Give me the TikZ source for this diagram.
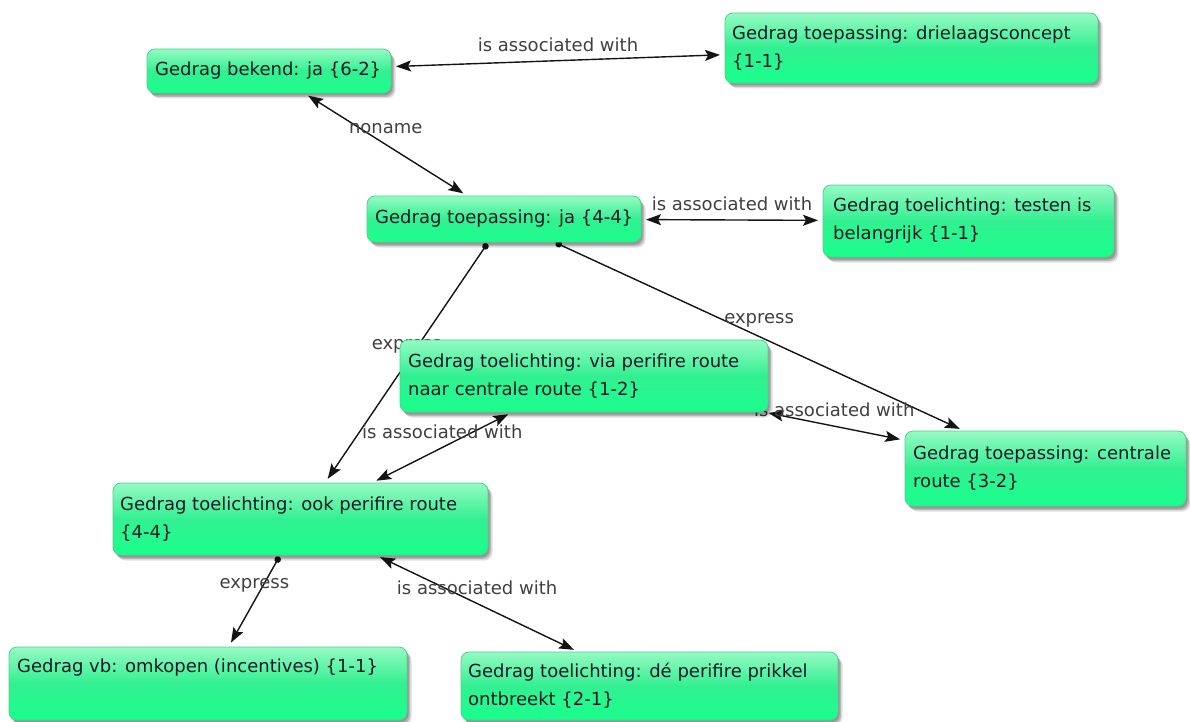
\documentclass[tikz,border=0pt]{standalone}
\usepackage{fontspec}
\setmainfont{DejaVu Sans}
\usetikzlibrary{arrows.meta,shadows}

\pgfdeclarelayer{backdrop}
\pgfdeclarelayer{background}
\pgfsetlayers{backdrop,background,main}

\definecolor{boxtop}{RGB}{150,250,195}
\definecolor{boxmid}{RGB}{50,240,145}
\definecolor{boxbot}{RGB}{25,255,140}
\definecolor{boxline}{RGB}{70,215,140}
\definecolor{ink}{RGB}{18,26,40}
\definecolor{lblgray}{RGB}{64,64,64}
\definecolor{edgeblack}{RGB}{20,20,20}

\tikzset{
  softshadow/.style={
    general shadow={shadow xshift=1.5pt, shadow yshift=-2.5pt, fill=black, fill opacity=0.18},
    general shadow={shadow xshift=3pt, shadow yshift=-4pt, fill=black, fill opacity=0.18},
    general shadow={shadow xshift=4.5pt, shadow yshift=-5.5pt, fill=black, fill opacity=0.12}},
  concept/.style={rectangle, rounded corners=8pt, draw=boxline, line width=0.8pt,
    top color=boxtop, bottom color=boxbot, middle color=boxmid,
    inner sep=0pt, outer sep=0pt, anchor=north west, softshadow},
  ctext/.style={anchor=west, align=left, inner sep=0pt, text=ink,
    font=\fontsize{18}{28}\selectfont},
  tip/.tip={Stealth[length=15pt,width=11pt,inset=3pt]},
  rel/.style={draw=edgeblack, line width=1.4pt, shorten <=5pt, shorten >=5pt},
  assoc/.style={rel, tip-tip},
  expr/.style={rel, shorten <=2pt, {Circle[length=6.5pt]}-tip},
  lbl/.style={midway, yshift=16pt, text=lblgray, inner sep=0pt,
    font=\fontsize{18}{22}\selectfont},
}

\begin{document}
\begin{tikzpicture}[x=1pt,y=-1pt]
  \useasboundingbox (0,0) rectangle (1190,722);
  \begin{pgfonlayer}{backdrop}
    \fill[white] (0,0) rectangle (1190,722);
  \end{pgfonlayer}

  % concept boxes
  \node[concept, minimum width=244pt, minimum height=44pt] (b1) at (147,49) {};
  \node[concept, minimum width=373pt, minimum height=70pt] (b2) at (725,13) {};
  \node[concept, minimum width=274pt, minimum height=46pt] (b3) at (367,196) {};
  \node[concept, minimum width=291pt, minimum height=72pt] (b4) at (823,185) {};
  \node[concept, minimum width=368pt, minimum height=72pt] (b5) at (400,340) {};
  \node[concept, minimum width=281pt, minimum height=75pt] (b6) at (905,431) {};
  \node[concept, minimum width=375pt, minimum height=72pt] (b7) at (113,483) {};
  \node[concept, minimum width=398pt, minimum height=73pt] (b8) at (9,647) {};
  \node[concept, minimum width=377pt, minimum height=68pt] (b9) at (461,652) {};

  % box texts
  \node[ctext] (b1t) at ([xshift=8pt]b1.west) {Gedrag bekend: ja \{6-2\}};
  \node[ctext] (b2t) at ([xshift=7pt]b2.west) {Gedrag toepassing: drielaagsconcept\\\{1-1\}};
  \node[ctext] (b3t) at ([xshift=8pt]b3.west) {Gedrag toepassing: ja \{4-4\}};
  \node[ctext] (b4t) at ([xshift=10pt]b4.west) {Gedrag toelichting: testen is\\belangrijk \{1-1\}};
  \node[ctext] (b5t) at ([xshift=8pt]b5.west) {Gedrag toelichting: via perifire route\\naar centrale route \{1-2\}};
  \node[ctext] (b6t) at ([xshift=8pt]b6.west) {Gedrag toepassing: centrale\\route \{3-2\}};
  \node[ctext] (b7t) at ([xshift=7pt]b7.west) {Gedrag toelichting: ook perifire route\\\{4-4\}};
  \node[ctext] (b8t) at ([xshift=8pt,yshift=-21pt]b8.north west) {Gedrag vb: omkopen (incentives) \{1-1\}};
  \node[ctext] (b9t) at ([xshift=7pt]b9.west) {Gedrag toelichting: dé perifire prikkel\\ontbreekt \{2-1\}};

  % relations, drawn beneath the boxes
  \begin{pgfonlayer}{background}
    \draw[assoc] (b1) -- node[lbl] (l1) {is associated with} (b2);
    \draw[assoc] (b1) -- node[lbl] (l2) {noname} (b3);
    \draw[assoc] (b3) -- node[lbl] (l3) {is associated with} (b4);
    \draw[expr]  (b3) -- node[lbl] (l4) {express} (b7);
    \draw[expr]  (b3) -- node[lbl] (l5) {express} (b6);
    \draw[assoc] (b5) -- node[lbl] (l6) {is associated with} (b6);
    \draw[assoc] (b5) -- node[lbl] (l7) {is associated with} (b7);
    \draw[expr]  (b7) -- node[lbl] (l8) {express} (b8);
    \draw[assoc] (b7) -- node[lbl] (l9) {is associated with} (b9);
  \end{pgfonlayer}
\end{tikzpicture}
\end{document}
